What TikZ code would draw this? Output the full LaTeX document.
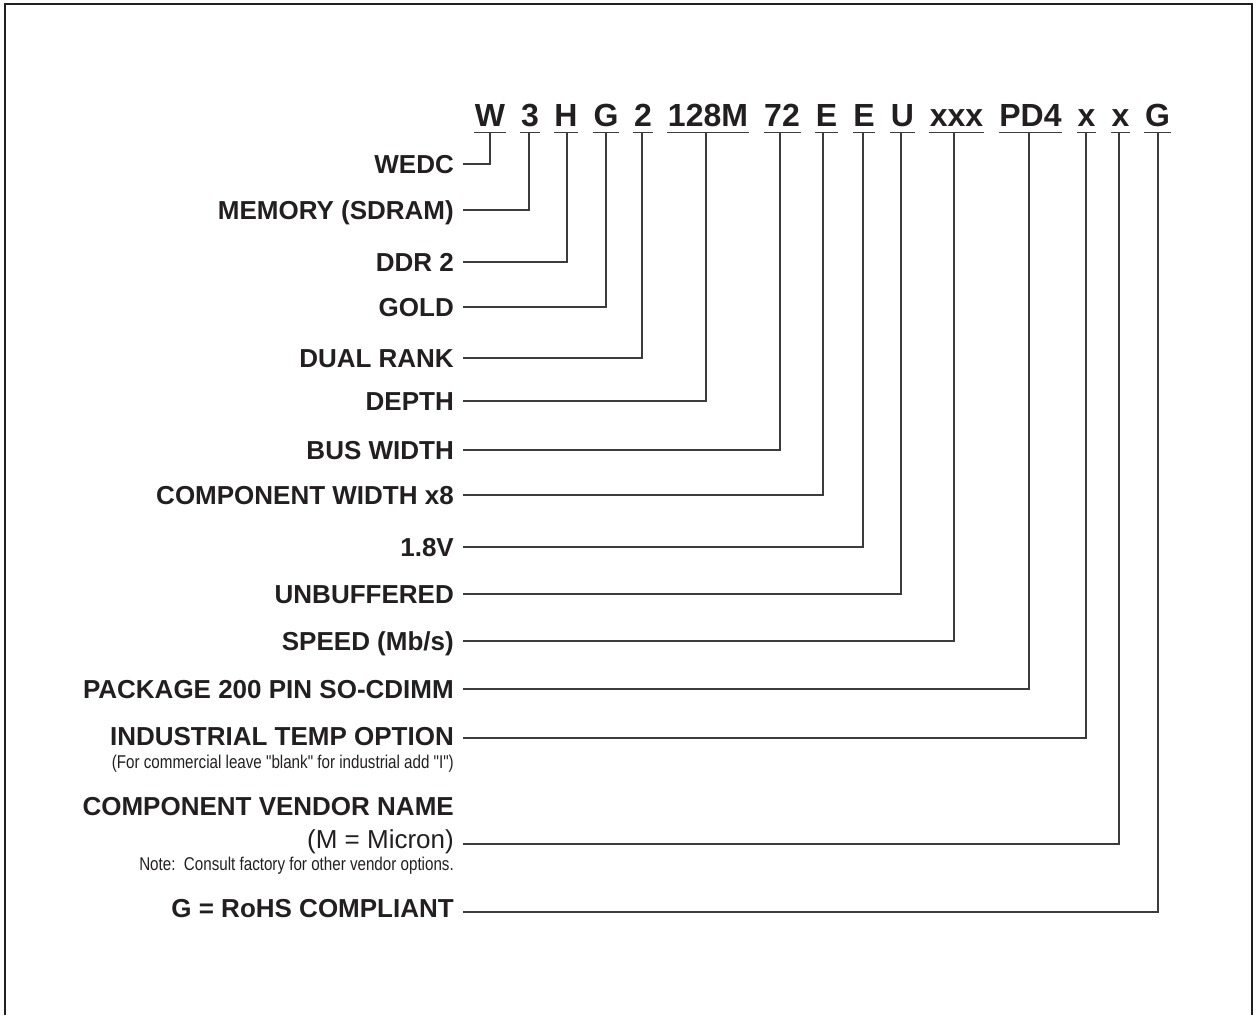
\documentclass[tikz,border=0pt]{standalone}
\usepackage{fontspec}
\setmainfont{Liberation Sans}
\newfontfamily\narrowfont[FakeStretch=0.82]{Liberation Sans}
\definecolor{ink}{HTML}{231F20}
\definecolor{wire}{HTML}{3C3C3C}
\begin{document}
\begin{tikzpicture}[x=1pt,y=-1pt,
  code/.style={anchor=base,inner xsep=0.5pt,inner ysep=0pt,text=ink,font=\fontsize{32}{36}\selectfont\bfseries},
  lab/.style={anchor=base east,inner sep=0pt,text=ink,font=\fontsize{26}{30}\selectfont\bfseries},
  labreg/.style={anchor=base east,inner sep=0pt,text=ink,font=\fontsize{26}{30}\selectfont},
  sub/.style={anchor=base east,inner sep=0pt,text=ink,font=\narrowfont\fontsize{18.5}{22}\selectfont},
  conn/.style={draw=wire,line width=1.3pt},
  uline/.style={draw=wire,line width=1.3pt},
  frame/.style={draw=ink,line width=1.6pt}]
\useasboundingbox (0,0) rectangle (1256,1015);
\draw[frame] (5,1015) -- (5,4) -- (1252,4) -- (1252,1015);
% code characters
\node[code] (c1)  at (490,126.7)   {W};
\node[code] (c2)  at (530,126.7)   {3};
\node[code] (c3)  at (566,126.7)   {H};
\node[code] (c4)  at (606,126.7)   {G};
\node[code] (c5)  at (643,126.7)   {2};
\node[code] (c6)  at (708,126.7)   {128M};
\node[code] (c7)  at (782,126.7)   {72};
\node[code] (c8)  at (826.5,126.7) {E};
\node[code] (c9)  at (864,126.7)   {E};
\node[code] (c10) at (902.5,126.7) {U};
\node[code] (c11) at (956.5,126.7) {xxx};
\node[code] (c12) at (1030.5,126.7) {PD4};
\node[code] (c13) at (1086.5,126.7) {x};
\node[code] (c14) at (1120.5,126.7) {x};
\node[code] (c15) at (1157.5,126.7) {G};
% labels
\node[lab] (l1)  at (454,173)   {WEDC};
\node[lab] (l2)  at (454,219)   {MEMORY (SDRAM)};
\node[lab] (l3)  at (454,271)   {DDR 2};
\node[lab] (l4)  at (454,316)   {GOLD};
\node[lab] (l5)  at (454,367)   {DUAL RANK};
\node[lab] (l6)  at (454,410)   {DEPTH};
\node[lab] (l7)  at (454,459)   {BUS WIDTH};
\node[lab] (l8)  at (454,504)   {COMPONENT WIDTH x8};
\node[lab] (l9)  at (454,556)   {1.8V};
\node[lab] (l10) at (454,603)   {UNBUFFERED};
\node[lab] (l11) at (454,650)   {SPEED (Mb/s)};
\node[lab] (l12) at (454,698)   {PACKAGE 200 PIN SO-CDIMM};
\node[lab] (l13) at (454,745)   {INDUSTRIAL TEMP OPTION};
\node[sub] (s13) at (454,768)   {(For commercial leave "blank" for industrial add "I")};
\node[lab] (h14) at (454,815)   {COMPONENT VENDOR NAME};
\node[labreg] (l14) at (454,848) {(M = Micron)};
\node[sub] (s14) at (454,870)   {Note:\ \ Consult factory for other vendor options.};
\node[lab] (l15) at (454,917)   {G = RoHS COMPLIANT};
% corners
\coordinate (k1)  at (490,164);
\coordinate (k2)  at (529,210);
\coordinate (k3)  at (567,262);
\coordinate (k4)  at (606,307);
\coordinate (k5)  at (642,358);
\coordinate (k6)  at (706,401);
\coordinate (k7)  at (780,450);
\coordinate (k8)  at (823,495);
\coordinate (k9)  at (863,547);
\coordinate (k10) at (901,594);
\coordinate (k11) at (954,641);
\coordinate (k12) at (1029,689);
\coordinate (k13) at (1086,738);
\coordinate (k14) at (1119,844);
\coordinate (k15) at (1158,912);
\foreach \i in {1,...,15}{
  \draw[uline] ([yshift=-6pt]c\i.base west) -- ([yshift=-6pt]c\i.base east);
  \draw[conn] ([xshift=9pt]l\i.east |- k\i) -- (k\i) -- ([yshift=-6pt]c\i.base -| k\i);
}
\end{tikzpicture}
\end{document}
